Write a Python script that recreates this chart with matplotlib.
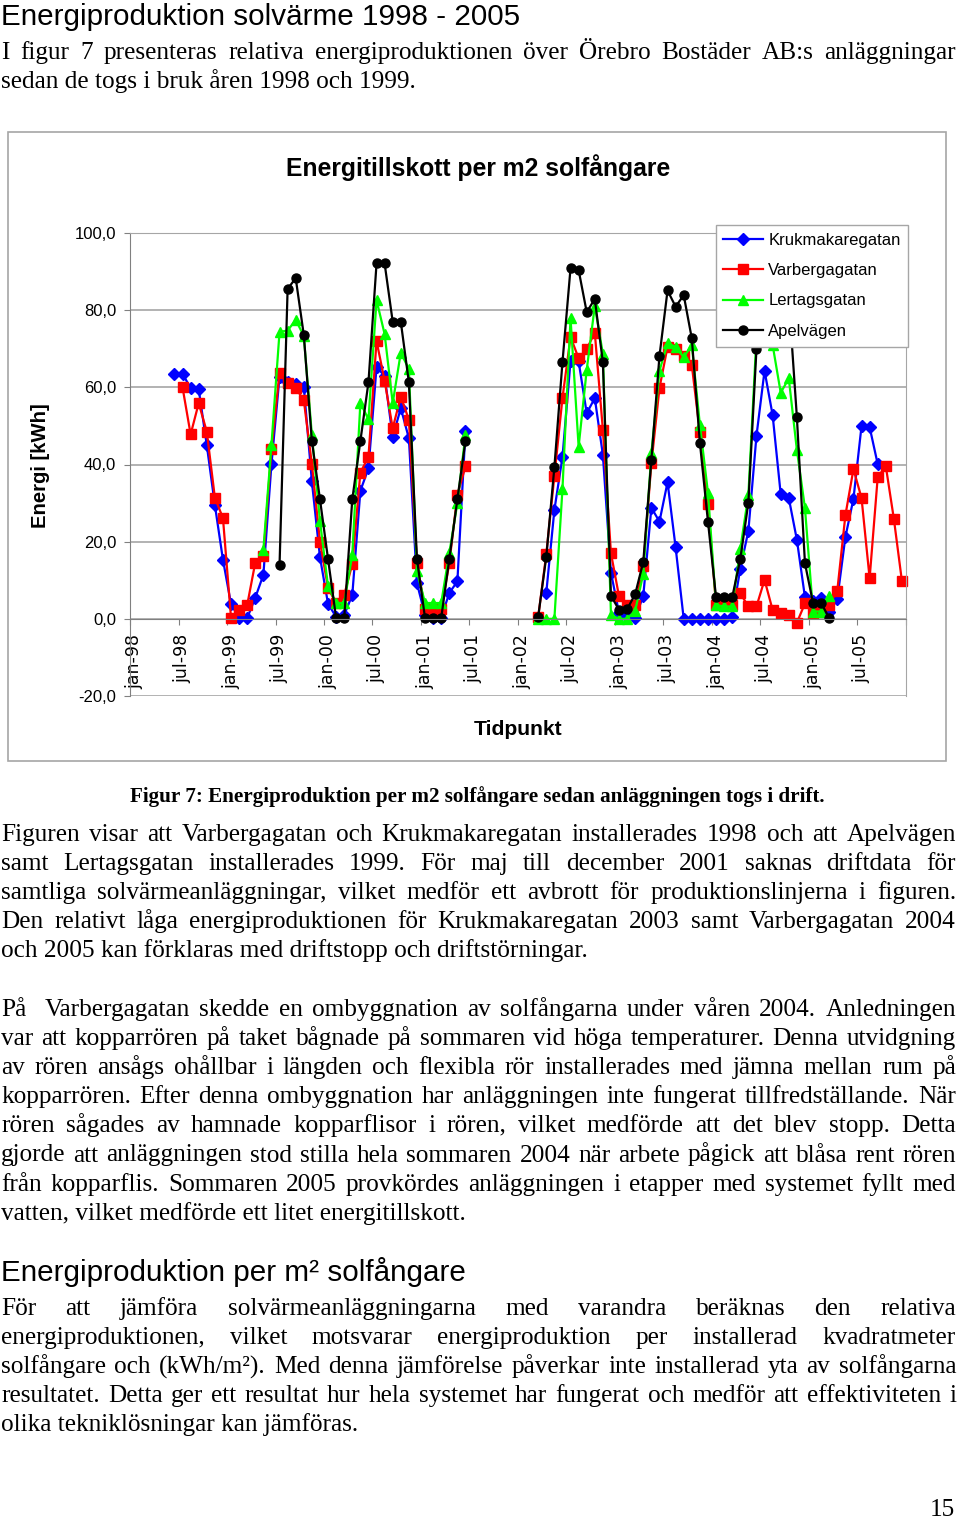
import numpy as np
import matplotlib
matplotlib.use('Agg')
import matplotlib.pyplot as plt
from matplotlib.patches import Rectangle

nan = np.nan

# 1. Data (kWh per m2 och månad, jan-98 .. dec-05)
krukmakaregatan = [
    nan, nan, nan, nan, nan, 63.5, 63.5, 59.8, 59.5, 45.0, 29.5, 15.3,
    3.8, 0.2, 0.2, 5.5, 11.4, 40.1, 62.8, 61.5, 60.8, 60.2, 35.6, 16.0,
    3.9, 0.5, 1.0, 6.2, 33.2, 39.0, 65.2, 63.0, 47.1, 54.6, 46.8, 9.2,
    1.0, 0.3, 0.3, 6.7, 9.7, 48.7, nan, nan, nan, nan, nan, nan,
    nan, nan, nan, 6.8, 28.2, 41.9, 66.8, 66.7, 53.3, 57.2, 42.5, 12.0,
    1.5, 0.6, 0.2, 6.0, 28.8, 25.2, 35.4, 18.5, 0.0, 0.0, 0.0, 0.0,
    0.0, 0.0, 0.6, 13.0, 22.8, 47.4, 64.3, 52.8, 32.3, 31.3, 20.5, 5.6,
    4.5, 5.4, 1.9, 5.1, 21.2, 31.1, 50.0, 49.7, 40.1, nan, nan, nan,
]
varbergagatan = [
    nan, nan, nan, nan, nan, nan, 60.0, 47.8, 55.9, 48.5, 31.4, 26.1,
    0.2, 2.3, 3.6, 14.6, 16.3, 44.0, 63.8, 61.2, 59.8, 56.7, 40.1, 20.0,
    8.0, 4.0, 6.2, 14.2, 37.9, 42.0, 72.0, 61.7, 49.4, 57.6, 51.6, 14.4,
    2.5, 1.9, 2.5, 14.4, 32.1, 39.5, nan, nan, nan, nan, nan, nan,
    nan, nan, 0.5, 16.8, 37.0, 57.2, 73.1, 67.5, 69.9, 74.2, 49.0, 17.0,
    5.8, 3.6, 3.6, 13.7, 40.3, 59.8, 70.5, 70.0, 68.0, 65.8, 48.3, 29.8,
    3.6, 3.6, 3.6, 6.6, 3.2, 3.2, 10.1, 2.3, 1.5, 1.0, -1.0, 4.0,
    1.5, 3.2, 3.6, 7.3, 26.8, 38.8, 31.3, 10.5, 36.7, 39.6, 25.9, 9.7,
]
lertagsgatan = [
    nan, nan, nan, nan, nan, nan, nan, nan, nan, nan, nan, nan,
    nan, nan, nan, nan, 17.9, 45.1, 74.4, 74.7, 77.5, 73.3, 47.7, 25.4,
    8.4, 4.1, 4.1, 16.6, 56.0, 51.7, 82.6, 73.8, 55.9, 69.0, 64.7, 12.3,
    4.1, 4.1, 4.1, 17.0, 30.0, 47.7, nan, nan, nan, nan, nan, nan,
    nan, nan, 0.0, 0.0, 0.0, 33.6, 77.9, 44.6, 64.5, 81.1, 68.7, 1.0,
    0.0, 0.0, 2.1, 11.7, 42.9, 64.3, 71.4, 70.5, 67.8, 71.0, 50.3, 32.7,
    3.6, 3.2, 3.2, 18.1, 32.1, 73.0, 80.0, 71.0, 58.6, 62.3, 43.8, 28.7,
    1.9, 1.9, 5.8, nan, nan, nan, nan, nan, nan, nan, nan, nan,
]
apelvagen = [
    nan, nan, nan, nan, nan, nan, nan, nan, nan, nan, nan, nan,
    nan, nan, nan, nan, nan, nan, 14.0, 85.5, 88.3, 73.6, 46.1, 31.0,
    15.5, 0.2, 0.2, 31.0, 46.1, 61.3, 92.1, 92.1, 77.0, 77.0, 61.3, 15.5,
    0.2, 0.2, 0.2, 15.5, 31.0, 46.1, nan, nan, nan, nan, nan, nan,
    nan, nan, 0.6, 16.1, 39.3, 66.5, 90.9, 90.4, 79.5, 82.9, 66.5, 6.0,
    2.3, 2.5, 6.4, 14.8, 41.2, 68.1, 85.1, 80.9, 83.9, 72.7, 45.7, 25.2,
    5.6, 5.6, 5.6, 15.5, 30.1, 69.9, 90.0, 93.0, 88.0, 83.0, 52.3, 14.4,
    4.1, 4.1, 0.2, nan, nan, nan, nan, nan, nan, nan, nan, nan,
]
serie_namn = ['Krukmakaregatan', 'Varbergagatan', 'Lertagsgatan', 'Apelvägen']
tick_etiketter = ['jan-98', 'jul-98', 'jan-99', 'jul-99', 'jan-00', 'jul-00',
                  'jan-01', 'jul-01', 'jan-02', 'jul-02', 'jan-03', 'jul-03',
                  'jan-04', 'jul-04', 'jan-05', 'jul-05']
y_varden = [-20, 0, 20, 40, 60, 80, 100]

# 2. Texter på sidan
stycke1 = [
    "I figur 7 presenteras relativa energiproduktionen över Örebro Bostäder AB:s anläggningar",
    "sedan de togs i bruk åren 1998 och 1999.",
]
stycke2 = [
    "Figuren visar att Varbergagatan och Krukmakaregatan installerades 1998 och att Apelvägen",
    "samt Lertagsgatan installerades 1999. För maj till december 2001 saknas driftdata för",
    "samtliga solvärmeanläggningar, vilket medför ett avbrott för produktionslinjerna i figuren.",
    "Den relativt låga energiproduktionen för Krukmakaregatan 2003 samt Varbergagatan 2004",
    "och 2005 kan förklaras med driftstopp och driftstörningar.",
]
stycke3 = [
    "På  Varbergagatan skedde en ombyggnation av solfångarna under våren 2004. Anledningen",
    "var att kopparrören på taket bågnade på sommaren vid höga temperaturer. Denna utvidgning",
    "av rören ansågs ohållbar i längden och flexibla rör installerades med jämna mellan rum på",
    "kopparrören. Efter denna ombyggnation har anläggningen inte fungerat tillfredställande. När",
    "rören sågades av hamnade kopparflisor i rören, vilket medförde att det blev stopp. Detta",
    "gjorde att anläggningen stod stilla hela sommaren 2004 när arbete pågick att blåsa rent rören",
    "från kopparflis. Sommaren 2005 provkördes anläggningen i etapper med systemet fyllt med",
    "vatten, vilket medförde ett litet energitillskott.",
]
stycke4 = [
    "För att jämföra solvärmeanläggningarna med varandra beräknas den relativa",
    "energiproduktionen, vilket motsvarar energiproduktion per installerad kvadratmeter",
    "solfångare och (kWh/m²). Med denna jämförelse påverkar inte installerad yta av solfångarna",
    "resultatet. Detta ger ett resultat hur hela systemet har fungerat och medför att effektiviteten i",
    "olika tekniklösningar kan jämföras.",
]

W, H = 960, 1519
SERIF = 'Liberation Serif'
SANS = 'Liberation Sans'
BROD = 18.2   # brödtextens storlek

fig = plt.figure(figsize=(W / 100, H / 100), dpi=100)
renderer = fig.canvas.get_renderer()


def fx(px):
    return px / W


def fy(py):
    return 1 - py / H


def textrad(rad, y, justera, storlek=BROD, vikt='normal', x0=1, x1=956, familj=SERIF):
    # en rad text, med eller utan marginaljustering
    if not justera:
        fig.text(fx(x0), fy(y), rad, fontsize=storlek, fontweight=vikt,
                 family=familj, va='baseline', ha='left')
        return
    ord_lista, mellanrum, extra = [], [], 0
    for t in rad.split(' '):
        if t == '':
            extra += 1
            continue
        if ord_lista:
            mellanrum.append(1 + extra)
        ord_lista.append(t)
        extra = 0
    texter = []
    bredd = 0
    for o in ord_lista:
        t = fig.text(0, fy(y), o, fontsize=storlek, fontweight=vikt,
                     family=familj, va='baseline', ha='left')
        b = t.get_window_extent(renderer).width
        texter.append((t, b))
        bredd += b
    enhet = (x1 - x0 - bredd) / sum(mellanrum)
    x = x0
    for k, (t, b) in enumerate(texter):
        t.set_x(fx(x))
        x += b
        if k < len(mellanrum):
            x += enhet * mellanrum[k]


def stycke(rader, y_start, steg=29.1):
    for k, rad in enumerate(rader):
        textrad(rad, y_start + k * steg, k < len(rader) - 1)


# 3. Rubrik och text ovanför diagrammet
fig.text(fx(1), fy(25), 'Energiproduktion solvärme 1998 - 2005', fontsize=21.3,
         family=SANS, va='baseline')
stycke(stycke1, 59)

# 4. Diagrammet
fig.add_artist(Rectangle((fx(8), fy(761)), fx(946) - fx(8), (761 - 132) / H,
                         transform=fig.transFigure, fill=False,
                         edgecolor='#a6a6a6', lw=1.2))
fig.text(fx(478), fy(168), 'Energitillskott per m2 solfångare', fontsize=17.8,
         fontweight='bold', family=SANS, ha='center', va='center')

ax = fig.add_axes([fx(130), fy(696), fx(906) - fx(130), (696 - 233) / H])
manader = np.arange(len(krukmakaregatan))
stilar = [('#0000ff', 'D', 6.5), ('#ff0000', 's', 6.5), ('#00ff00', '^', 7.5), ('#000000', 'o', 6.5)]
serier = [krukmakaregatan, varbergagatan, lertagsgatan, apelvagen]
for data, namn, (farg, mark, ms) in zip(serier, serie_namn, stilar):
    ax.plot(manader, data, color=farg, marker=mark, ms=ms, lw=1.6,
            markeredgecolor=farg, label=namn, clip_on=False)

ax.set_xlim(-0.5, len(manader) - 0.5)
ax.set_ylim(y_varden[0], y_varden[-1])
ax.set_yticks(y_varden)
ax.set_yticklabels([f'{v:.1f}'.replace('.', ',') for v in y_varden])
ax.yaxis.grid(True, color='#a6a6a6', lw=1.2)
ax.set_axisbelow(True)

etikett_pos = manader[::6]
ax.set_xticks(np.append(etikett_pos - 0.5, len(manader) - 0.5))
ax.set_xticklabels([])
ax.set_xticks(etikett_pos, minor=True)
ax.set_xticklabels(tick_etiketter, minor=True)
ax.tick_params(axis='x', which='major', direction='out', length=4, color='#808080')
ax.tick_params(axis='x', which='minor', length=0, pad=11, labelsize=12.5,
               labelrotation=90)
ax.tick_params(axis='y', direction='out', length=4, color='#808080', pad=6, labelsize=12)
for lab in ax.get_xticklabels(minor=True) + ax.get_yticklabels():
    lab.set_family(SANS)

ax.spines['bottom'].set_position(('data', 0))
for s in ['bottom', 'left']:
    ax.spines[s].set_color('#808080')
for s in ['top', 'right']:
    ax.spines[s].set_color('#a6a6a6')

leg = ax.legend(loc='upper right', bbox_to_anchor=(fx(908), fy(225)),
                bbox_transform=fig.transFigure, fancybox=False, framealpha=1,
                edgecolor='#a6a6a6', prop={'family': SANS, 'size': 12},
                handlelength=2.4, handletextpad=0.3, labelspacing=0.93,
                borderpad=0.45, borderaxespad=0)
leg.get_frame().set_linewidth(1.0)
leg.set_zorder(10)

fig.text(fx(518), fy(730), 'Tidpunkt', fontsize=15.2, fontweight='bold',
         family=SANS, ha='center', va='center')
fig.text(fx(40), fy(466), 'Energi [kWh]', fontsize=14.6, fontweight='bold',
         family=SANS, ha='center', va='center', rotation=90)

# 5. Figurtext och stycken under diagrammet
fig.text(fx(130), fy(802), 'Figur 7: Energiproduktion per m2 solfångare sedan anläggningen togs i drift.',
         fontsize=15.2, fontweight='bold', family=SERIF, va='baseline')
stycke(stycke2, 841)
stycke(stycke3, 1016)
fig.text(fx(1), fy(1281), 'Energiproduktion per m² solfångare', fontsize=21.3,
         family=SANS, va='baseline')
stycke(stycke4, 1315)
fig.text(fx(955), fy(1516), '15', fontsize=BROD, family=SERIF, ha='right', va='baseline')

fig.savefig('out.png', dpi=100)
